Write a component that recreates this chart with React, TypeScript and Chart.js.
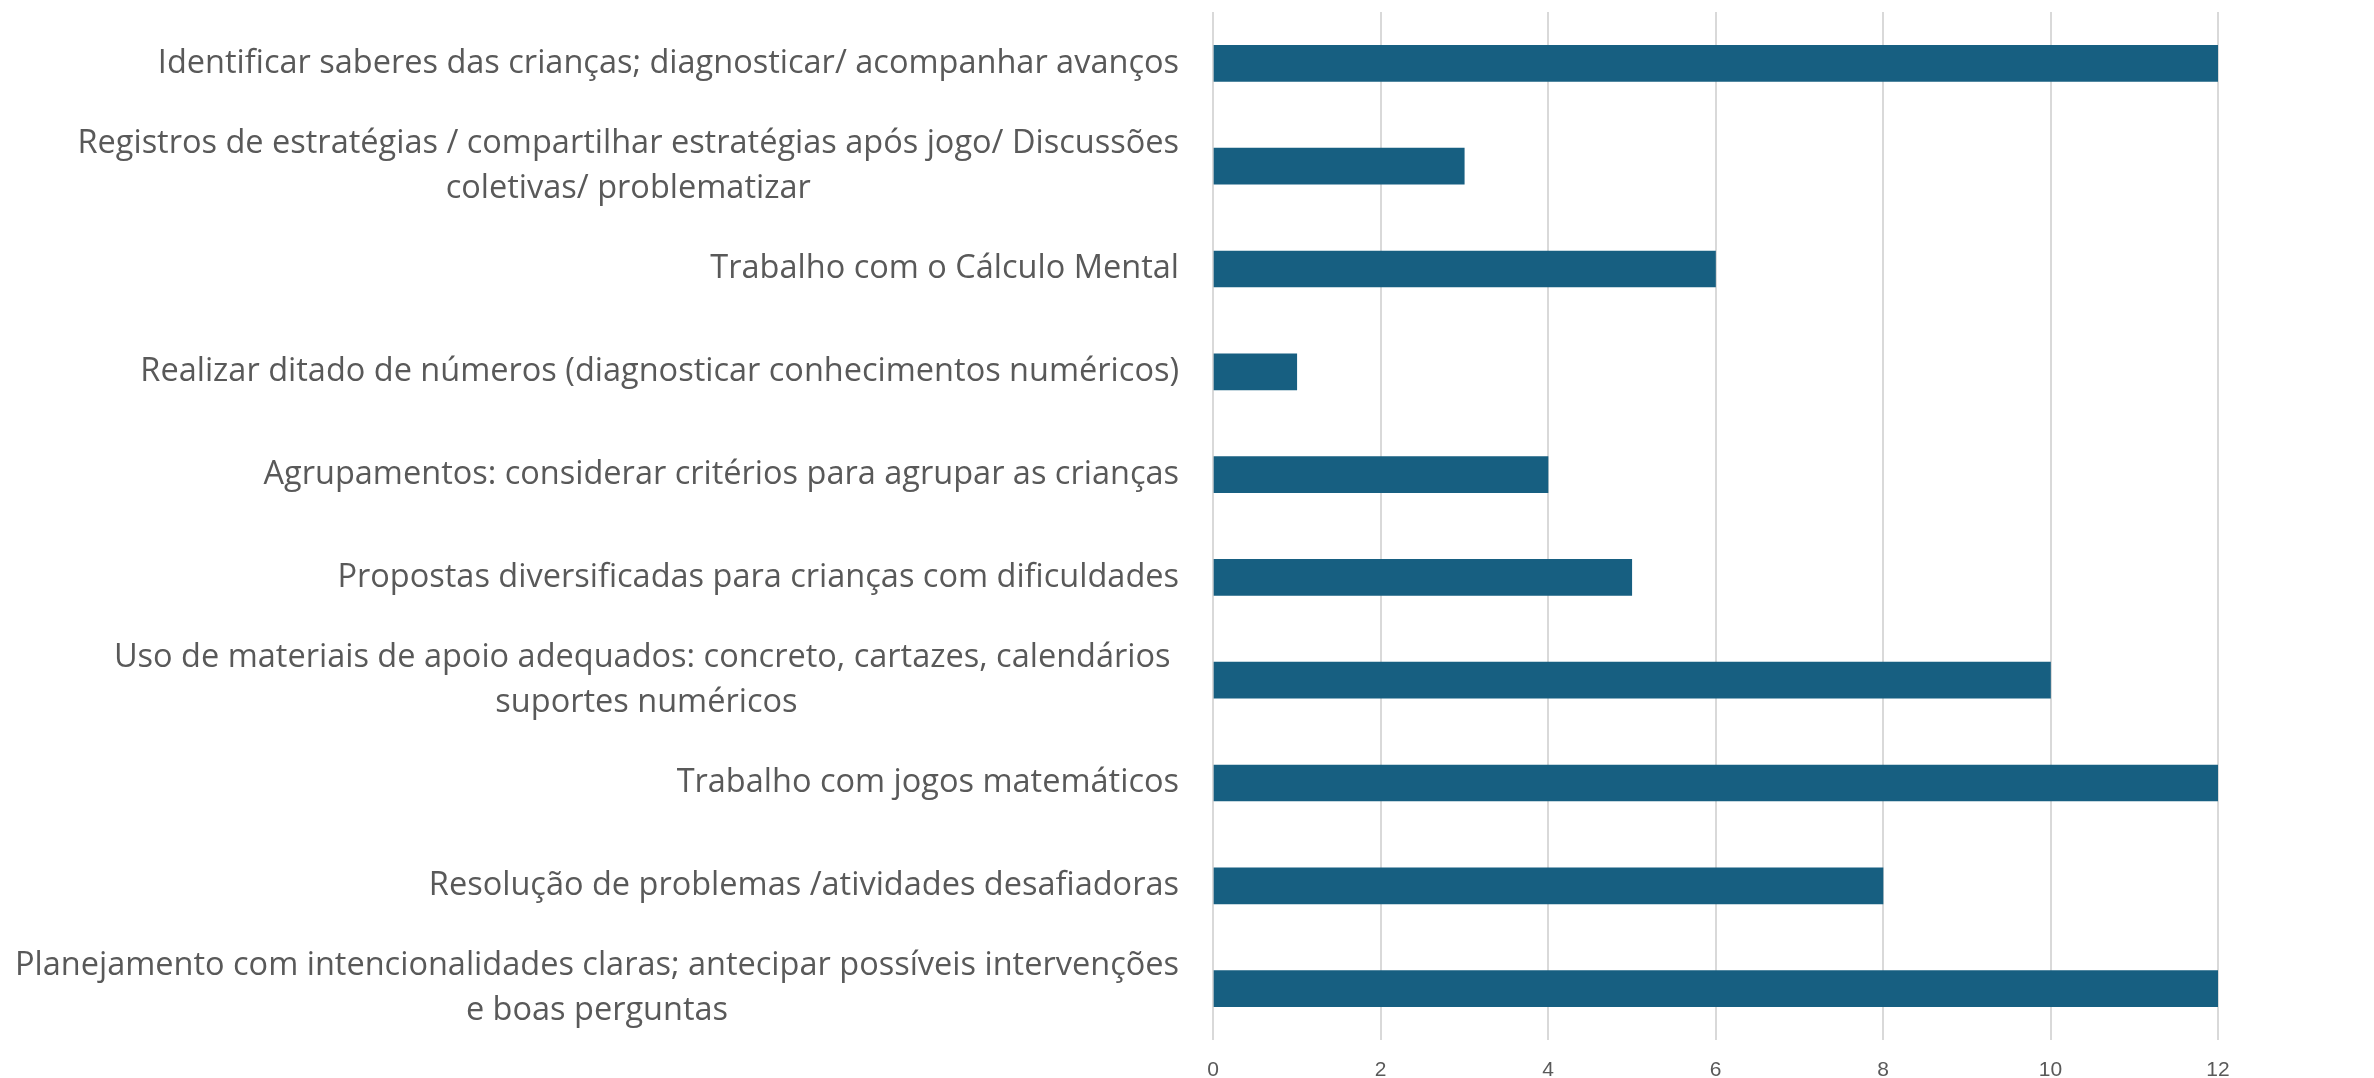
import React, { useEffect, useRef } from "react";
import { Chart, registerables } from "chart.js";

Chart.register(...registerables);

const categories: string[][] = [
  ["Identificar saberes das crianças; diagnosticar/ acompanhar avanços"],
  ["Registros de estratégias / compartilhar estratégias após jogo/ Discussões", "coletivas/ problematizar"],
  ["Trabalho com o Cálculo Mental"],
  ["Realizar ditado de números (diagnosticar conhecimentos numéricos)"],
  ["Agrupamentos: considerar critérios para agrupar as crianças"],
  ["Propostas diversificadas para crianças com dificuldades"],
  ["Uso de materiais de apoio adequados: concreto, cartazes, calendários ", "suportes numéricos"],
  ["Trabalho com jogos matemáticos"],
  ["Resolução de problemas /atividades desafiadoras"],
  ["Planejamento com intencionalidades claras; antecipar possíveis intervenções", "e boas perguntas"],
];

const values: number[] = [12, 3, 6, 1, 4, 5, 10, 12, 8, 12];

const xTicks = { min: 0, max: 12, step: 2 };

const BAR_COLOR = "#175f81";
const TEXT_COLOR = "#595959";
const GRID_COLOR = "#d9d9d9";
const LABEL_FONT = "32.5px 'Open Sans'";
const LABEL_LINE = 45;
const LABEL_GAP = 34;

const yLabelPlugin = {
  id: "yLabels",
  afterDraw(chart: any) {
    const { ctx, chartArea } = chart;
    const yScale = chart.scales.y;
    const labels = chart.data.labels as string[][];
    ctx.save();
    ctx.font = LABEL_FONT;
    ctx.fillStyle = TEXT_COLOR;
    ctx.textAlign = "center";
    ctx.textBaseline = "middle";
    const right = chartArea.left - LABEL_GAP;
    labels.forEach((lines, i) => {
      const yc = yScale.getPixelForTick(i);
      const widths = lines.map((l) => ctx.measureText(l).width);
      const blockW = Math.max(...widths);
      const cx = right - blockW / 2;
      const y0 = yc - ((lines.length - 1) * LABEL_LINE) / 2;
      lines.forEach((line, k) => {
        ctx.fillText(line, cx, y0 + k * LABEL_LINE);
      });
    });
    ctx.restore();
  },
};

export default function App() {
  const canvasRef = useRef<HTMLCanvasElement | null>(null);

  useEffect(() => {
    if (!canvasRef.current) return;
    const chart = new Chart(canvasRef.current, {
      type: "bar",
      data: {
        labels: categories as any,
        datasets: [
          {
            data: values,
            backgroundColor: BAR_COLOR,
            borderWidth: 0,
            barThickness: 36,
          },
        ],
      },
      options: {
        indexAxis: "y",
        animation: false,
        responsive: false,
        maintainAspectRatio: false,
        layout: { padding: { top: 12, right: 156, left: 0, bottom: 0 } },
        plugins: { legend: { display: false }, tooltip: { enabled: false } },
        scales: {
          x: {
            min: xTicks.min,
            max: xTicks.max,
            ticks: {
              stepSize: xTicks.step,
              color: TEXT_COLOR,
              font: { family: "'Liberation Sans', Arial, sans-serif", size: 21 },
              padding: 18,
            },
            grid: { color: GRID_COLOR, lineWidth: 2, drawTicks: false },
            border: { display: false },
            afterFit: (s: any) => {
              s.height = 38;
            },
          },
          y: {
            ticks: { display: false },
            grid: { display: false },
            border: { display: false },
            afterFit: (s: any) => {
              s.width = 1213;
            },
          },
        },
      },
      plugins: [yLabelPlugin],
    });
    return () => chart.destroy();
  }, []);

  return (
    <div style={{ position: "fixed", left: 0, top: 0, width: 2374, height: 1078, background: "#fff" }}>
      <canvas ref={canvasRef} width={2374} height={1078} style={{ width: 2374, height: 1078 }} />
    </div>
  );
}
